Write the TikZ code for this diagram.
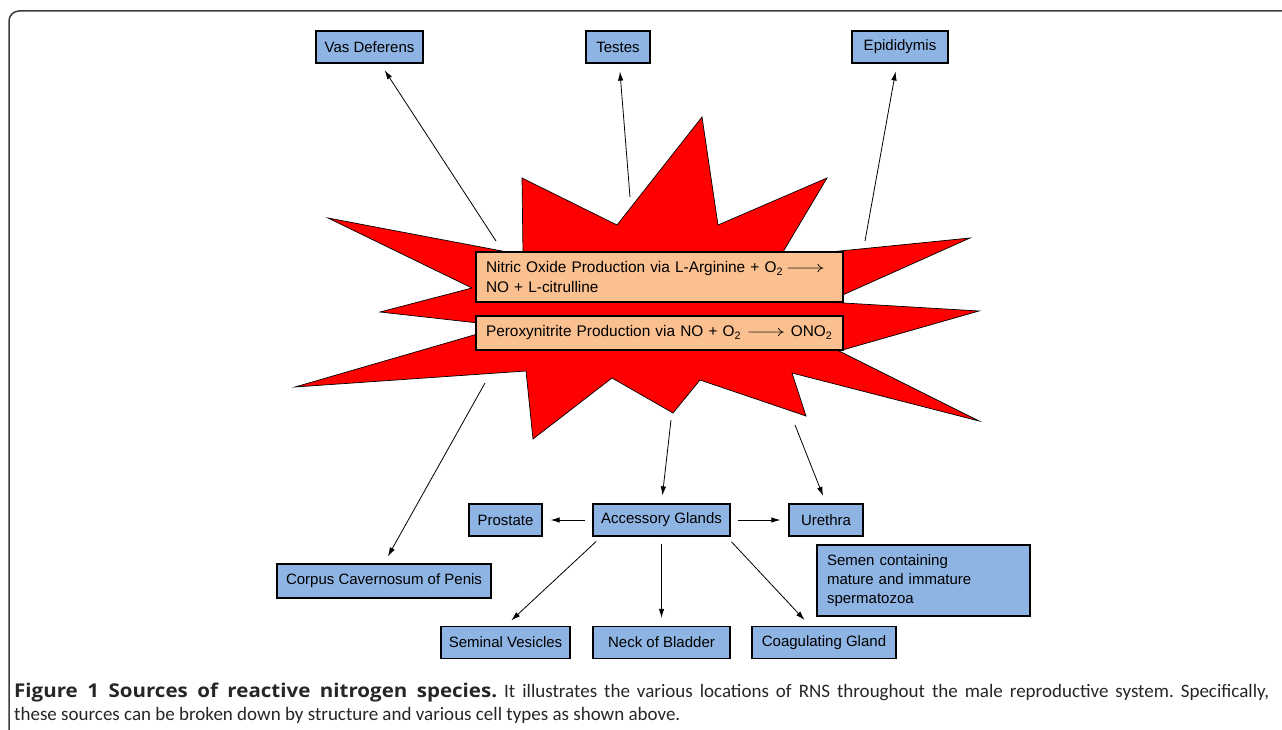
\documentclass[tikz,border=0pt]{standalone}
\usepackage{fontspec}
\setmainfont{Liberation Sans}
\newfontfamily\capfont{Carlito}
\newfontfamily\capbold[FakeStretch=1.08]{Open Sans}
\usepackage{graphicx}
\usetikzlibrary{calc,
                 arrows.meta
  }
\definecolor{organblue}{RGB}{142,180,227}
\definecolor{reactorange}{RGB}{250,192,144}
\definecolor{framegray}{RGB}{60,60,60}
\newcommand{\yields}{\scalebox{1.7}[1.1]{$\longrightarrow$}}
\frenchspacing

\begin{document}
\begin{tikzpicture}[
      x=1pt,
      y=-1pt,
      organ/.style={
                rectangle,
                draw=black,
                line width=1.3pt,
                fill=organblue,
                text centered,
                minimum height=32pt,
                inner sep=2pt
                },
      reaction/.style={
                rectangle,
                draw=black,
                line width=1.3pt,
                fill=reactorange,
                align=left,
                inner xsep=10pt,
                text width=347pt,
                font=\fontsize{15.4}{20}\selectfont
                },
      link/.style={
                -{Latex[length=9pt,width=5.5pt]},
                line width=0.8pt,
                shorten <=7pt,
                shorten >=8pt
                },
      caption/.style={
                anchor=base west,
                inner sep=0pt,
                text=black!85,
                font=\capfont\fontsize{19}{23}\selectfont
                },
      every node/.style={font=\fontsize{15}{19}\selectfont}
]

\useasboundingbox (0,0) rectangle (1282,730);
\draw[framegray, line width=1.5pt, rounded corners=10pt] (9,740) -- (9,11) -- (1295,11);

\filldraw[fill=red, draw=black, line width=0.7pt]
  (702,117) -- (718,225) -- (827,178) -- (780,257) -- (970,238) -- (827,302)
  -- (979,311) -- (839,351) -- (979,421) -- (792,373) -- (806,416) -- (700,380)
  -- (673,413) -- (612,378) -- (533,439) -- (526,371) -- (295,387) -- (505,326)
  -- (380,312) -- (472,288) -- (328,218) -- (523,255) -- (522,178) -- (617,225)
  -- cycle;

\node[reaction, minimum height=50pt] (no) at (659.5,277) {Nitric Oxide Production via L-Arginine + O\textsubscript{2}\,\yields\\NO + L-citrulline};
\node[reaction, minimum height=34pt] (onoo) at (659.5,333) {Peroxynitrite Production via NO + O\textsubscript{2} \yields{} ONO\textsubscript{2}};

\node[organ, minimum width=107pt] (vas) at (369.5,47) {Vas Deferens};
\node[organ, minimum width=64pt] (testes) at (618,47) {Testes};
\node[organ, minimum width=96pt] (epi) at (900,47) {Epididymis};

\node[organ, minimum width=73pt] (pro) at (505.5,520) {Prostate};
\node[organ, minimum width=137pt] (acc) at (661.5,520) {Accessory Glands};
\node[organ, minimum width=74pt] (ure) at (826,520) {Urethra};
\node[organ, minimum width=213pt, minimum height=71pt, align=left, text width=193pt, inner xsep=10pt] (semen) at (923.5,580.5) {Semen containing\\mature and immature\\spermatozoa};
\node[organ, minimum width=214pt, minimum height=34pt] (corpus) at (384,581) {Corpus Cavernosum of Penis};
\node[organ, minimum width=129pt] (sem) at (505.5,642.5) {Seminal Vesicles};
\node[organ, minimum width=137pt] (neck) at (661.5,642.5) {Neck of Bladder};
\node[organ, minimum width=144pt] (coag) at (824,642.5) {Coagulating Gland};

\coordinate (vasfrom) at (496,241);
\coordinate (tesfrom) at (630,197);
\coordinate (epifrom) at (865,241);
\coordinate (corfrom) at (485,383);
\coordinate (accfrom) at (671,420);
\coordinate (urefrom) at (795,425);

\draw[link, shorten <=0pt] (vasfrom) -- (vas);
\draw[link, shorten <=0pt] (tesfrom) -- (testes);
\draw[link, shorten <=0pt] (epifrom) -- (epi);
\draw[link, shorten <=0pt] (corfrom) -- (corpus.north);
\draw[link, shorten <=0pt] (accfrom) -- (acc.north);
\draw[link, shorten <=0pt] (urefrom) -- (ure.north);

\draw[link] (acc) -- (pro);
\draw[link] (acc) -- (ure);
\draw[link] ($(acc.south west)+(9,0)$) -- (sem.north);
\draw[link] (acc) -- (neck);
\draw[link] ($(acc.south east)+(-4,0)$) -- ($(coag.north)+(-14,0)$);

\node[caption] (cap1) at (14,697) {\makebox[1255pt][s]{\makebox[483pt][s]{\capbold\fontsize{19}{23}\selectfont\bfseries Figure 1 Sources of reactive nitrogen species.} It illustrates the various locations of RNS throughout the male reproductive system. Specifically,}};
\node[caption] (cap2) at (14,720) {these sources can be broken down by structure and various cell types as shown above.};

\end{tikzpicture}
\end{document}
